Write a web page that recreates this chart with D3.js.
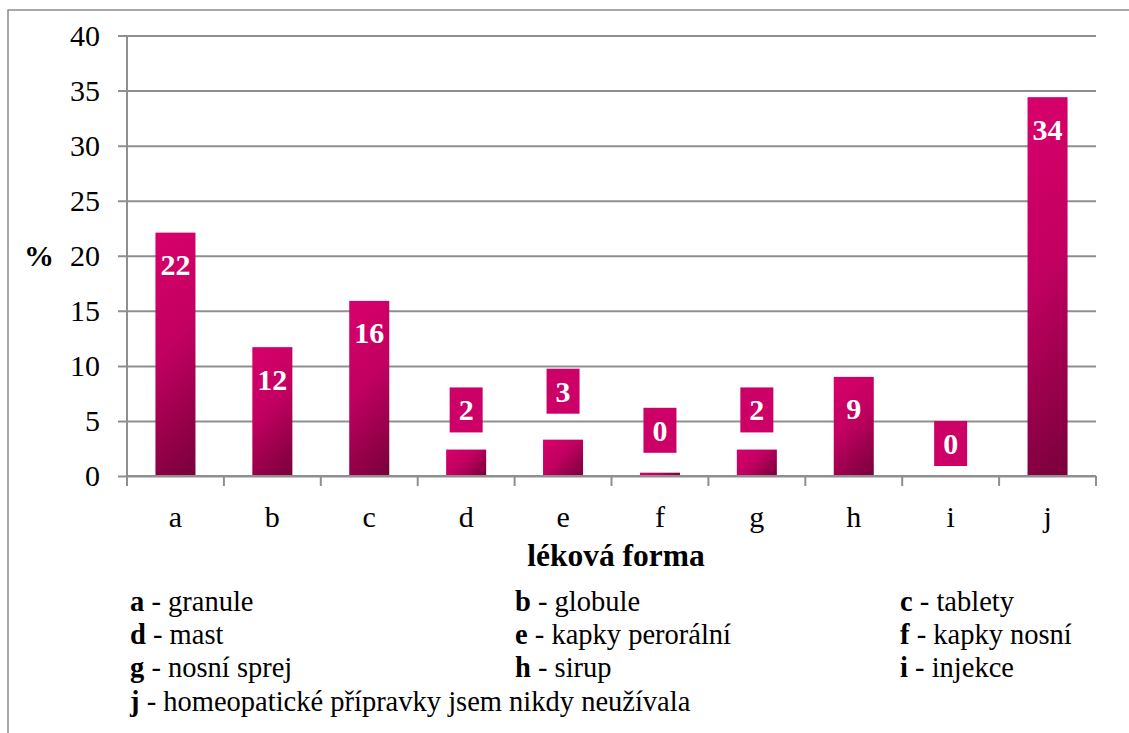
<!DOCTYPE html>
<html>
<head>
<meta charset="utf-8">
<script src="https://cdn.jsdelivr.net/npm/d3@7"></script>
</head>
<body style="margin:0;padding:0;background:#fff;">
<svg id="chart" width="1129" height="733" style="display:block"></svg>
<script>
// ---- data ----
const categories = ["a", "b", "c", "d", "e", "f", "g", "h", "i", "j"];
const values = [22.1, 11.7, 15.9, 2.4, 3.3, 0.3, 2.4, 9.0, 0, 34.4];
const valueLabels = ["22", "12", "16", "2", "3", "0", "2", "9", "0", "34"];
// manually placed data labels (in % units); null = label inside the bar top
const labelLevels = [null, null, null, 6.0, 7.7, 4.15, 6.0, null, 2.95, null];
const yTicks = [0, 5, 10, 15, 20, 25, 30, 35, 40];
const legendKeys = ["a", "b", "c", "d", "e", "f", "g", "h", "i", "j"];
const legendTexts = ["granule", "globule", "tablety", "mast", "kapky perorální", "kapky nosní",
  "nosní sprej", "sirup", "injekce", "homeopatické přípravky jsem nikdy neužívala"];
const yAxisTitle = "%";
const xAxisTitle = "léková forma";

const FONT = "'Liberation Serif', 'Times New Roman', 'DejaVu Serif', serif";

// ---- layout ----
const svg = d3.select("#chart").style("font-family", FONT);
const plot = { left: 127, right: 1096, top: 35.5, bottom: 476 };
const gridColor = "#8f8f8f";

svg.append("rect").attr("x", 8).attr("y", 10).attr("width", 1200).attr("height", 800)
  .attr("fill", "none").attr("stroke", "#8c8c8c").attr("stroke-width", 1.5);

const y = d3.scaleLinear().domain([0, 40]).range([plot.bottom, plot.top]);
const x = d3.scaleBand().domain(categories).range([plot.left, plot.right])
  .paddingInner(0.587).paddingOuter(0.2935);

const defs = svg.append("defs");

const yAxis = d3.axisLeft(y).tickValues(yTicks).tickSize(-(plot.right - plot.left)).tickPadding(18)
  .tickFormat(d3.format("d"));
const gy = svg.append("g").attr("transform", `translate(${plot.left},0)`).call(yAxis);
gy.attr("font-family", null);
gy.select(".domain").remove();
gy.selectAll(".tick line").attr("stroke", gridColor).attr("stroke-width", 2).attr("x1", -9);
gy.selectAll(".tick text").attr("font-size", 30).attr("fill", "#000").attr("x", -27);
svg.append("line").attr("x1", plot.left).attr("x2", plot.left).attr("y1", plot.top).attr("y2", plot.bottom)
  .attr("stroke", gridColor).attr("stroke-width", 2);

const barsG = svg.append("g");
categories.forEach((c, i) => {
  const v = values[i];
  const bx = x(c), bw = x.bandwidth();
  const by = y(v), bh = y(0) - y(v);
  if (bh <= 0) return;
  const d = (bw + bh) / 2;
  const gid = "grad" + i;
  const g = defs.append("linearGradient").attr("id", gid).attr("gradientUnits", "userSpaceOnUse")
    .attr("x1", bx).attr("y1", by).attr("x2", bx + d).attr("y2", by + d);
  g.append("stop").attr("offset", "0%").attr("stop-color", "#d8006b");
  g.append("stop").attr("offset", "45%").attr("stop-color", "#c20061");
  g.append("stop").attr("offset", "100%").attr("stop-color", "#78003a");
  barsG.append("rect").attr("x", bx).attr("y", by).attr("width", bw).attr("height", bh)
    .attr("fill", `url(#${gid})`);
});

const xAxisLine = svg.append("g");
xAxisLine.append("line").attr("x1", plot.left).attr("x2", plot.right).attr("y1", plot.bottom).attr("y2", plot.bottom)
  .attr("stroke", gridColor).attr("stroke-width", 2);
const step = x.step();
d3.range(categories.length + 1).forEach(k => {
  const tx = plot.left + k * step;
  xAxisLine.append("line").attr("x1", tx).attr("x2", tx).attr("y1", plot.bottom).attr("y2", plot.bottom + 10)
    .attr("stroke", gridColor).attr("stroke-width", 2);
});
svg.append("g").selectAll("text").data(categories).join("text")
  .attr("x", d => x(d) + x.bandwidth() / 2).attr("y", 527)
  .attr("text-anchor", "middle").attr("font-size", 30).text(d => d);

const lblG = svg.append("g");
categories.forEach((c, i) => {
  const cx = x(c) + x.bandwidth() / 2;
  if (labelLevels[i] === null) {
    lblG.append("text").attr("x", cx).attr("y", y(values[i]) + 32)
      .attr("text-anchor", "middle").attr("dominant-baseline", "central")
      .attr("font-size", 30).attr("font-weight", "bold").attr("fill", "#fff").text(valueLabels[i]);
  } else {
    const cy = y(labelLevels[i]);
    lblG.append("rect").attr("x", cx - 16.5).attr("y", cy - 22.5).attr("width", 33).attr("height", 45)
      .attr("fill", "#cc0066");
    lblG.append("text").attr("x", cx).attr("y", cy)
      .attr("text-anchor", "middle").attr("dominant-baseline", "central")
      .attr("font-size", 30).attr("font-weight", "bold").attr("fill", "#fff").text(valueLabels[i]);
  }
});

svg.append("text").attr("x", 39).attr("y", y(20)).attr("text-anchor", "middle")
  .attr("dominant-baseline", "central").attr("font-size", 30).attr("font-weight", "bold").text(yAxisTitle);
svg.append("text").attr("x", 616).attr("y", 566).attr("text-anchor", "middle")
  .attr("font-size", 31.5).attr("font-weight", "bold").text(xAxisTitle);

const colX = [130, 515, 900];
const rowY = [611, 644, 677, 711];
const legG = svg.append("g");
legendKeys.forEach((k, i) => {
  const t = legG.append("text").attr("x", colX[i % 3]).attr("y", rowY[Math.floor(i / 3)]).attr("font-size", 28.5);
  t.append("tspan").attr("font-weight", "bold").text(k);
  t.append("tspan").text(" - " + legendTexts[i]);
});

svg.selectAll("text").style("font-family", FONT);
</script>
</body>
</html>
